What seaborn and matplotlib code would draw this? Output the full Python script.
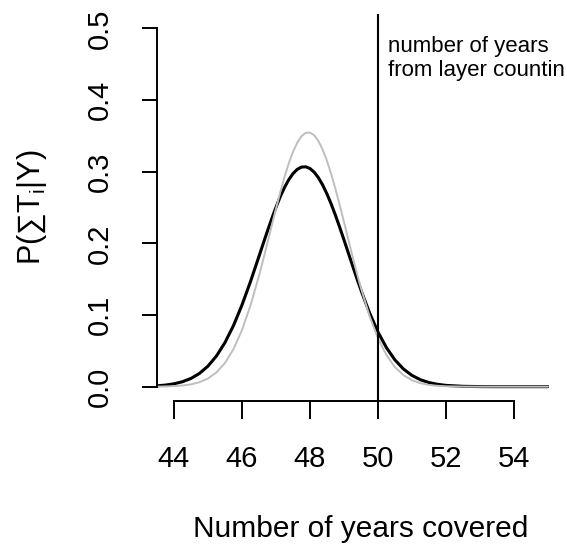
import numpy as np
import pandas as pd
import matplotlib
matplotlib.use("Agg")
import matplotlib.pyplot as plt
import seaborn as sns

# ---- data ----
years = [43.5, 43.75, 44.0, 44.25, 44.5, 44.75, 45.0, 45.25, 45.5, 45.75,
         46.0, 46.25, 46.5, 46.625, 46.75, 46.875, 47.0, 47.125, 47.25, 47.375,
         47.5, 47.625, 47.75, 47.875, 48.0, 48.125, 48.25, 48.375, 48.5, 48.625,
         48.75, 48.875, 49.0, 49.125, 49.25, 49.375, 49.5, 49.75, 50.0, 50.25,
         50.5, 50.75, 51.0, 51.25, 51.5, 51.75, 52.0, 52.5, 53.0, 53.5,
         54.0, 54.5, 55.0]
p_black = [0.0012, 0.0022, 0.0040, 0.0069, 0.0115, 0.0185, 0.0287, 0.0429, 0.0616, 0.0853,
           0.1140, 0.1467, 0.1819, 0.1998, 0.2174, 0.2344, 0.2504, 0.2650, 0.2779, 0.2888,
           0.2973, 0.3032, 0.3064, 0.3068, 0.3044, 0.2992, 0.2914, 0.2812, 0.2688, 0.2547,
           0.2390, 0.2222, 0.2048, 0.1869, 0.1691, 0.1515, 0.1345, 0.1032, 0.0762, 0.0543,
           0.0372, 0.0246, 0.0157, 0.0096, 0.0057, 0.0033, 0.0018, 0.0005, 0.0001, 0.0,
           0.0, 0.0, 0.0]
p_gray = [0.0001, 0.0003, 0.0008, 0.0016, 0.0032, 0.0062, 0.0114, 0.0199, 0.0331, 0.0524,
          0.0790, 0.1133, 0.1547, 0.1774, 0.2010, 0.2249, 0.2485, 0.2713, 0.2925, 0.3115,
          0.3277, 0.3405, 0.3494, 0.3542, 0.3546, 0.3507, 0.3426, 0.3305, 0.3150, 0.2965,
          0.2757, 0.2532, 0.2297, 0.2057, 0.1821, 0.1591, 0.1374, 0.0987, 0.0675, 0.0439,
          0.0272, 0.0160, 0.0090, 0.0048, 0.0024, 0.0012, 0.0005, 0.0001, 0.0, 0.0,
          0.0, 0.0, 0.0]
layer_count = 50
x_ticks = [44, 46, 48, 50, 52, 54]
y_ticks = [0.0, 0.1, 0.2, 0.3, 0.4, 0.5]
y_tick_labels = ["0.0", "0.1", "0.2", "0.3", "0.4", "0.5"]
annotation_lines = ["number of years", "from layer countin"]

df = pd.DataFrame({"years": years, "black": p_black, "gray": p_gray})

sns.set_style("white")
plt.rcParams["font.family"] = ["Liberation Sans", "DejaVu Sans"]
plt.rcParams["mathtext.fontset"] = "custom"
plt.rcParams["mathtext.rm"] = "Liberation Sans"
plt.rcParams["mathtext.it"] = "Liberation Sans"
for key in ["text.color", "axes.labelcolor", "xtick.color", "ytick.color"]:
    plt.rcParams[key] = "black"

fig = plt.figure(figsize=(5.67, 5.45), dpi=100)
ax = fig.add_axes([157 / 567, 1 - 401 / 545, 392 / 567, 387 / 545])

sns.lineplot(data=df, x="years", y="black", ax=ax, color="black", linewidth=2.2)
sns.lineplot(data=df, x="years", y="gray", ax=ax, color="#BEBEBE", linewidth=1.4)
ax.axvline(layer_count, color="black", linewidth=1.5)

ax.set_xlim(43.5, 55.03)
ax.set_ylim(-0.02, 0.52)

for side in ["top", "right"]:
    ax.spines[side].set_visible(False)
ax.spines["left"].set_bounds(0.0, 0.5)
ax.spines["bottom"].set_bounds(44, 54)
for side in ["left", "bottom"]:
    ax.spines[side].set_linewidth(1.4)
    ax.spines[side].set_color("black")

ax.set_xticks(x_ticks)
ax.set_xticklabels([str(t) for t in x_ticks])
ax.set_yticks(y_ticks)
ax.set_yticklabels(y_tick_labels, rotation=90, va="center")
ax.tick_params(axis="x", bottom=True, direction="out", length=13, width=1.4, pad=18.5,
               labelsize=21, colors="black")
ax.tick_params(axis="y", left=True, direction="out", length=11, width=1.4, pad=20,
               labelsize=21, colors="black")

ax.set_xlabel("Number of years covered", fontsize=21.5, va="baseline")
ax.xaxis.set_label_coords((361 - 157) / 392, (401 - 537) / 387)
ax.set_ylabel(r"P($\sum$T$_{\rm i}$|Y)", fontsize=22, va="center")
ax.yaxis.set_label_coords((32 - 157) / 392, 0.5)

ax.text(50.29, 0.4665, annotation_lines[0], fontsize=16, ha="left", va="baseline",
        clip_on=False)
ax.text(50.29, 0.4330, annotation_lines[1], fontsize=16, ha="left", va="baseline",
        clip_on=False)

fig.savefig("out.png", dpi=100)
